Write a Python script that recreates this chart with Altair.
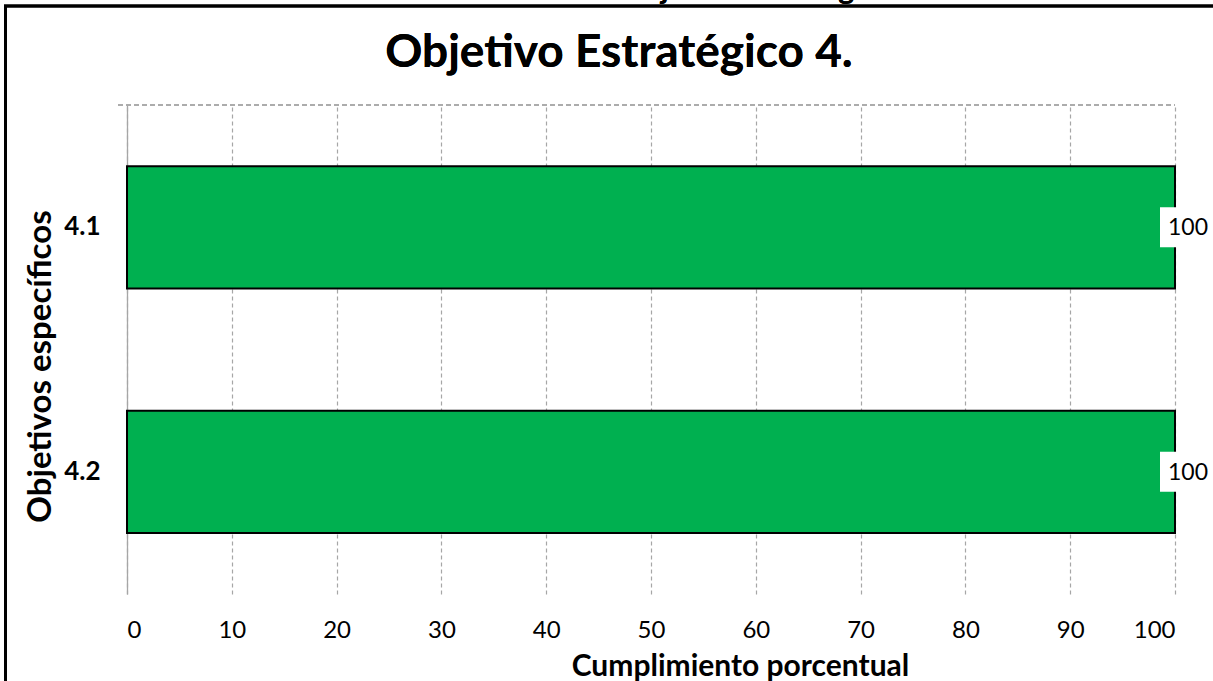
import altair as alt
import pandas as pd

categories = ["4.1", "4.2"]
values = [100, 100]
x_ticks = [0, 10, 20, 30, 40, 50, 60, 70, 80, 90, 100]
label_texts = ["100", "100"]

df = pd.DataFrame({"cat": categories, "val": values, "lbl": label_texts})

W, H = 1048, 489
FONT = "Lato"
GRID = "#A6A6A6"

base = alt.Chart(df)

border = base.mark_rect(filled=False, stroke="black", strokeWidth=3).encode(
    x=alt.value(-121.5), x2=alt.value(1150), y=alt.value(-99), y2=alt.value(650)
)

cut_text = base.mark_text(
    text="Objetivo Estratégico", font=FONT, fontWeight="bold", fontSize=30,
    align="left", baseline="alphabetic", color="black"
).encode(x=alt.value(493), y=alt.value(-106))

title = base.mark_text(
    text="Objetivo Estratégico 4.", font=FONT, fontWeight="bold", fontSize=46,
    align="center", baseline="alphabetic", color="black"
).encode(x=alt.value(492), y=alt.value(-38))

top_rule = base.mark_rule(color=GRID, strokeWidth=1.3, strokeDash=[5, 3]).encode(
    x=alt.value(-9), x2=alt.value(W), y=alt.value(0)
)

xscale = alt.Scale(domain=[0, 100], nice=False, zero=True)
yscale = alt.Scale(domain=categories, paddingInner=0.5, paddingOuter=0.25)

bars = base.mark_bar(color="#00B050", stroke="black", strokeWidth=2).encode(
    x=alt.X("val:Q", scale=xscale, axis=alt.Axis(
        values=x_ticks, grid=True, gridColor=GRID, gridDash=[4, 3], gridWidth=1.2,
        domain=False, ticks=False, tickSize=0, labelPadding=24,
        labelFont=FONT, labelFontSize=24, labelColor="black",
        title="Cumplimiento porcentual", titleFont=FONT, titleFontSize=30,
        titleFontWeight="bold", titleColor="black",
        titleX=613, titleY=81, titleAlign="center", titleBaseline="alphabetic",
    )),
    y=alt.Y("cat:N", scale=yscale, sort=categories, axis=alt.Axis(
        grid=False, domain=True, domainColor=GRID, domainWidth=1.3,
        ticks=False, tickSize=0, labelPadding=27,
        labelFont=FONT, labelFontSize=26, labelFontWeight="bold", labelColor="black",
        labelAngle=0,
        title="Objetivos específicos", titleFont=FONT, titleFontSize=33,
        titleFontWeight="bold", titleColor="black", titleAngle=270,
        titleX=-87, titleY=261, titleAlign="center", titleBaseline="middle",
    )),
)

label_box = base.mark_bar(color="white", size=40, xOffset=-15, x2Offset=45).encode(
    x=alt.X("val:Q", scale=xscale), x2="val:Q",
    y=alt.Y("cat:N", scale=yscale, sort=categories),
)

label_text = base.mark_text(
    font=FONT, fontSize=23, color="black", align="center", baseline="middle", dx=13, dy=1
).encode(
    x=alt.X("val:Q", scale=xscale),
    y=alt.Y("cat:N", scale=yscale, sort=categories),
    text="lbl:N",
)

chart = alt.layer(
    border, cut_text, title, top_rule, bars, label_box, label_text
).properties(
    width=W, height=H,
    autosize=alt.AutoSizeParams(type="none"),
    padding={"left": 127, "top": 105, "right": 38, "bottom": 87},
    background="white",
).configure_view(stroke=None)

chart.save("out.html", embed_options={"renderer": "svg", "actions": False})
